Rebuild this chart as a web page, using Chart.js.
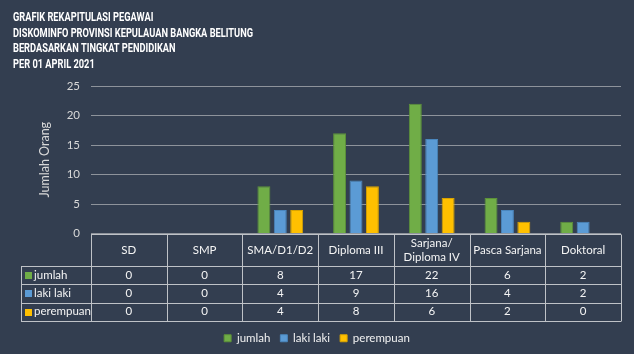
<!DOCTYPE html>
<html>
<head>
<meta charset="utf-8">
<script src="https://cdn.jsdelivr.net/npm/chart.js@4.4.1/dist/chart.umd.min.js"></script>
<style>
  html, body { margin: 0; padding: 0; background: #333e50; }
  #wrap { width: 634px; height: 354px; }
</style>
</head>
<body>
<div id="wrap"><canvas id="chart" width="634" height="354"></canvas></div>
<script>
const titleLines = [
  'GRAFIK REKAPITULASI PEGAWAI',
  'DISKOMINFO PROVINSI KEPULAUAN BANGKA BELITUNG',
  'BERDASARKAN TINGKAT PENDIDIKAN',
  'PER 01 APRIL 2021'
];
const categories = ['SD', 'SMP', 'SMA/D1/D2', 'Diploma III', ['Sarjana/', 'Diploma IV'], 'Pasca Sarjana', 'Doktoral'];
const seriesNames = ['jumlah', 'laki laki', 'perempuan'];
const jumlah = [0, 0, 8, 17, 22, 6, 2];
const lakiLaki = [0, 0, 4, 9, 16, 4, 2];
const perempuan = [0, 0, 4, 8, 6, 2, 0];

const fills = ['#70ad47', '#5b9bd5', '#ffc000'];
const borders = ['#5d9239', '#4a86bd', '#d9a300'];
const bodyFont = 'Lato, "Open Sans", sans-serif';

// dark background plus the condensed heading in the top-left corner
const background = {
  id: 'background',
  beforeDraw(chart) {
    const ctx = chart.ctx;
    ctx.save();
    ctx.fillStyle = '#333e50';
    ctx.fillRect(0, 0, chart.width, chart.height);
    ctx.restore();
  },
  afterDraw(chart) {
    const ctx = chart.ctx;
    ctx.save();
    ctx.font = 'bold 13px Roboto, sans-serif';
    ctx.fillStyle = '#ffffff';
    ctx.textAlign = 'left';
    ctx.textBaseline = 'alphabetic';
    // squeeze to the narrow look of the original heading
    const sx = 240 / ctx.measureText(titleLines[1]).width;
    titleLines.forEach((t, i) => {
      ctx.save();
      ctx.translate(13, 21 + i * 15.7);
      ctx.scale(sx, 1);
      ctx.fillText(t, 0, 0);
      ctx.restore();
    });
    ctx.restore();
  }
};

// data table under the plot, built from the same arrays as the bars
const dataTable = {
  id: 'dataTable',
  afterDraw(chart) {
    const ctx = chart.ctx;
    const area = chart.chartArea;
    const n = categories.length;
    const colW = (area.right - area.left) / n;
    const top = Math.round(area.bottom);
    const headH = 32;
    const rowH = 18.3;
    const leftEdge = 21;
    const bottom = top + headH + rowH * 3;
    const px = v => Math.round(v) + 0.5;

    ctx.save();
    ctx.strokeStyle = '#bfc2c7';
    ctx.lineWidth = 1;
    ctx.beginPath();
    ctx.moveTo(area.left, px(top));
    ctx.lineTo(area.right, px(top));
    for (let r = 0; r <= 3; r++) {
      const y = px(top + headH + rowH * r);
      ctx.moveTo(leftEdge, y);
      ctx.lineTo(area.right, y);
    }
    for (let i = 0; i <= n; i++) {
      const x = px(area.left + colW * i);
      ctx.moveTo(x, px(top));
      ctx.lineTo(x, px(bottom));
    }
    ctx.moveTo(px(leftEdge), px(top + headH));
    ctx.lineTo(px(leftEdge), px(bottom));
    ctx.stroke();

    ctx.fillStyle = '#f5f5f5';
    ctx.font = '11.5px ' + bodyFont;
    ctx.textAlign = 'center';
    ctx.textBaseline = 'middle';
    categories.forEach((c, i) => {
      const cx = area.left + colW * (i + 0.5);
      const lines = Array.isArray(c) ? c : [c];
      const lh = 14;
      lines.forEach((t, k) => {
        ctx.fillText(t, cx, top + headH / 2 + (k - (lines.length - 1) / 2) * lh);
      });
    });

    const rows = [jumlah, lakiLaki, perempuan];
    rows.forEach((vals, r) => {
      const cy = top + headH + rowH * (r + 0.5);
      ctx.textAlign = 'center';
      vals.forEach((v, i) => {
        ctx.fillText(String(v), area.left + colW * (i + 0.5), cy);
      });
      ctx.fillStyle = fills[r];
      ctx.fillRect(25, Math.round(cy) - 3, 7, 7);
      ctx.fillStyle = '#f5f5f5';
      ctx.textAlign = 'left';
      ctx.fillText(seriesNames[r], 34, cy);
    });
    ctx.restore();
  }
};

const datasets = [jumlah, lakiLaki, perempuan].map((d, i) => ({
  label: seriesNames[i],
  data: d,
  backgroundColor: fills[i],
  borderColor: borders[i],
  borderWidth: 1,
  categoryPercentage: 0.65,
  barPercentage: 0.79
}));

new Chart(document.getElementById('chart'), {
  type: 'bar',
  data: { labels: categories, datasets: datasets },
  plugins: [background, dataTable],
  options: {
    responsive: false,
    animation: false,
    layout: { padding: { left: 13, right: 13, top: 86, bottom: 0 } },
    plugins: {
      title: { display: false },
      legend: {
        position: 'bottom',
        labels: {
          color: '#f2f2f2',
          font: { family: bodyFont, size: 11.5 },
          boxWidth: 7,
          boxHeight: 7,
          padding: 10
        }
      },
      tooltip: { enabled: false }
    },
    scales: {
      x: {
        ticks: { display: false },
        grid: { display: false },
        border: { display: false },
        afterFit(scale) { scale.height = 89; }
      },
      y: {
        min: 0,
        max: 25,
        ticks: { stepSize: 5, color: '#d9d9d9', font: { family: bodyFont, size: 11.5 }, padding: 11 },
        grid: { color: '#8e939b', drawTicks: false },
        border: { display: false },
        title: {
          display: true,
          text: 'Jumlah Orang',
          color: '#d9d9d9',
          font: { family: bodyFont, size: 12.5 },
          padding: { top: 24 }
        },
        afterFit(scale) { scale.width = 78; }
      }
    }
  }
});
</script>
</body>
</html>
